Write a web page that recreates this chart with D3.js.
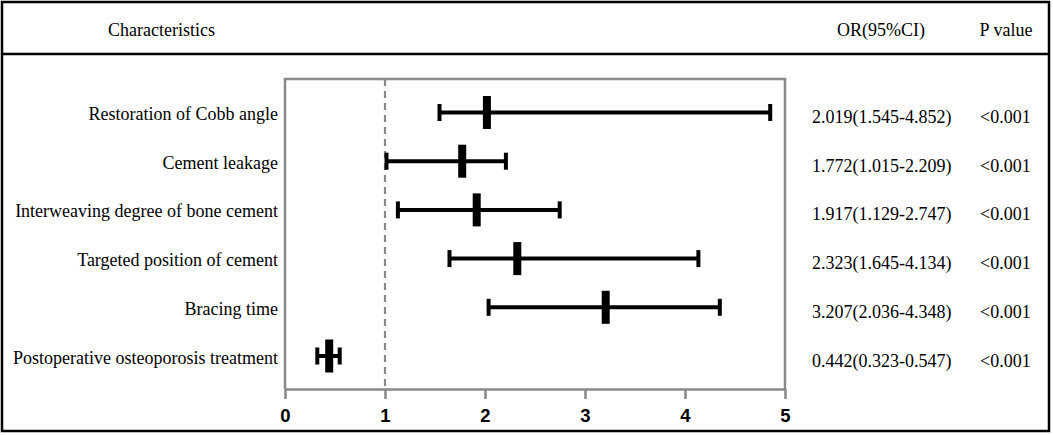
<!DOCTYPE html>
<html><head><meta charset="utf-8">
<script src="https://cdn.jsdelivr.net/npm/d3@7"></script>
<style>body{margin:0;background:#fff}svg{display:block}</style>
</head><body>
<svg id="c" width="1053" height="435"></svg>
<script>
const categories = ["Restoration of Cobb angle","Cement leakage","Interweaving degree of bone cement","Targeted position of cement","Bracing time","Postoperative osteoporosis treatment"];
const orValues = [2.019,1.772,1.917,2.323,3.207,0.442];
const lowerCI = [1.545,1.015,1.129,1.645,2.036,0.323];
const upperCI = [4.852,2.209,2.747,4.134,4.348,0.547];
const orLabels = ["2.019(1.545-4.852)","1.772(1.015-2.209)","1.917(1.129-2.747)","2.323(1.645-4.134)","3.207(2.036-4.348)","0.442(0.323-0.547)"];
const pLabels = ["<0.001","<0.001","<0.001","<0.001","<0.001","<0.001"];
const xTicks = [0,1,2,3,4,5];
const refValue = 1;

const svg = d3.select("#c");
const serif = "'Liberation Serif','Times New Roman',serif";
const fs = 18;

// outer frame
svg.append("rect").attr("x",2).attr("y",2).attr("width",1047).attr("height",429)
  .attr("fill","none").attr("stroke","#000").attr("stroke-width",2.5);
svg.append("line").attr("x1",2).attr("x2",1049).attr("y1",54).attr("y2",54)
  .attr("stroke","#000").attr("stroke-width",2.5);

// headers
svg.append("text").attr("x",108).attr("y",36).attr("font-family",serif).attr("font-size",fs).text("Characteristics");
svg.append("text").attr("x",881).attr("y",36).attr("text-anchor","middle").attr("font-family",serif).attr("font-size",fs).text("OR(95%CI)");
svg.append("text").attr("x",1006).attr("y",36).attr("text-anchor","middle").attr("font-family",serif).attr("font-size",fs).text("P value");

const x = d3.scaleLinear().domain([0,5]).range([285,785]);
const y = d3.scalePoint().domain(categories).range([112.5,356]);
const plotTop = 79, plotBottom = 389;

// plot box
const grey = "#888";
svg.append("line").attr("x1",x(0)).attr("x2",x(0)).attr("y1",plotTop).attr("y2",plotBottom).attr("stroke",grey).attr("stroke-width",2.5);
svg.append("line").attr("x1",x(5)).attr("x2",x(5)).attr("y1",plotTop).attr("y2",plotBottom).attr("stroke",grey).attr("stroke-width",2.5);
svg.append("line").attr("x1",x(0)-1.25).attr("x2",x(5)+1.25).attr("y1",plotTop).attr("y2",plotTop).attr("stroke",grey).attr("stroke-width",2.5);

// reference line
svg.append("line").attr("x1",x(refValue)).attr("x2",x(refValue)).attr("y1",plotTop).attr("y2",plotBottom)
  .attr("stroke",grey).attr("stroke-width",2.2).attr("stroke-dasharray","7,5");

// x axis
const axis = svg.append("g").attr("transform",`translate(0,${plotBottom})`)
  .call(d3.axisBottom(x).tickValues(xTicks).tickFormat(d3.format("d")).tickSize(10).tickSizeOuter(0));
axis.select(".domain").attr("stroke",grey).attr("stroke-width",2.5);
axis.selectAll(".tick line").attr("stroke",grey).attr("stroke-width",2.5);
axis.selectAll(".tick text").attr("fill","#000").attr("font-family","'Liberation Sans',Arial,sans-serif")
  .attr("font-weight","bold").attr("font-size",18.5).attr("dy","0").attr("y",33);

// rows
const rows = categories.map((c,i)=>({c,or:orValues[i],lo:lowerCI[i],hi:upperCI[i],lab:orLabels[i],p:pLabels[i]}));
const g = svg.append("g");
g.selectAll(".ci").data(rows).join("line").attr("x1",d=>x(d.lo)).attr("x2",d=>x(d.hi))
  .attr("y1",d=>y(d.c)).attr("y2",d=>y(d.c)).attr("stroke","#000").attr("stroke-width",4);
g.selectAll(".capL").data(rows).join("rect").attr("x",d=>x(d.lo)-2).attr("y",d=>y(d.c)-8.5)
  .attr("width",4).attr("height",17).attr("fill","#000");
g.selectAll(".capR").data(rows).join("rect").attr("x",d=>x(d.hi)-2).attr("y",d=>y(d.c)-8.5)
  .attr("width",4).attr("height",17).attr("fill","#000");
g.selectAll(".box").data(rows).join("rect").attr("x",d=>x(d.or)-4).attr("y",d=>y(d.c)-16.5)
  .attr("width",8).attr("height",33).attr("fill","#000");

// labels
g.selectAll(".lab").data(rows).join("text").attr("x",278).attr("y",d=>y(d.c)+7.5)
  .attr("text-anchor","end").attr("font-family",serif).attr("font-size",fs).text(d=>d.c);
g.selectAll(".orl").data(rows).join("text").attr("x",812).attr("y",d=>y(d.c)+10.5)
  .attr("font-family",serif).attr("font-size",fs).text(d=>d.lab);
g.selectAll(".pl").data(rows).join("text").attr("x",980).attr("y",d=>y(d.c)+10.5)
  .attr("font-family",serif).attr("font-size",fs).text(d=>d.p);
</script>
</body></html>
